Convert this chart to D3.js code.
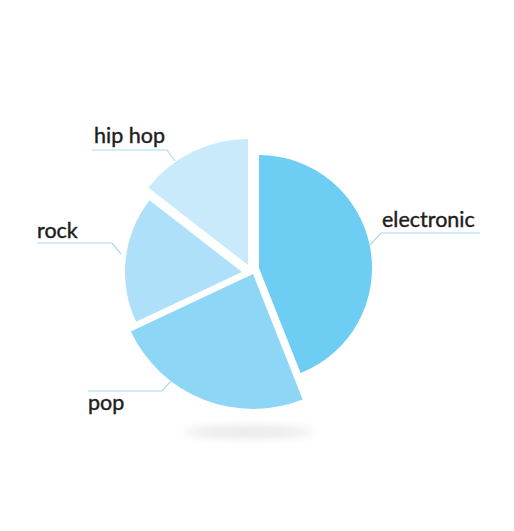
<!DOCTYPE html>
<html>
<head>
<meta charset="utf-8">
<script src="https://cdn.jsdelivr.net/npm/d3@7/dist/d3.min.js"></script>
<style>
  html, body { margin: 0; padding: 0; background: #ffffff; }
  svg { display: block; }
</style>
</head>
<body>
<svg id="chart" width="514" height="531"></svg>
<script>
// ---- data ----
const categories = ["electronic", "pop", "rock", "hip hop"];
const values = [44, 24, 17.5, 14.5];
const colors = ["#6dcdf3", "#8ed6f6", "#aee1f9", "#c9eafb"];

// ---- layout (positions / sizes, not data) ----
const center = { x: 250, y: 270 };
const sliceLayout = [
  { dx: 9,  dy: -2, r: 113 },
  { dx: 3,  dy: 4,  r: 135 },
  { dx: -8, dy: 2,  r: 117 },
  { dx: -2, dy: -5, r: 126 }
];
const labelLayout = [
  { tx: 382, ty: 227, line: [[480, 233], [381, 233], [370, 245]] },
  { tx: 88,  ty: 410, line: [[88, 391], [162, 391], [171, 381]] },
  { tx: 37,  ty: 238, line: [[37, 243], [112, 243], [121, 254]] },
  { tx: 94,  ty: 143, line: [[92, 150], [167, 150], [175, 161]] }
];

const svg = d3.select("#chart");

// shadow
const defs = svg.append("defs");
defs.append("filter").attr("id", "blur")
  .attr("x", "-50%").attr("y", "-200%").attr("width", "200%").attr("height", "500%")
  .append("feGaussianBlur").attr("stdDeviation", 5);
svg.append("ellipse")
  .attr("cx", 249).attr("cy", 432).attr("rx", 64).attr("ry", 6)
  .attr("fill", "#e8e8e8")
  .attr("filter", "url(#blur)");

const pie = d3.pie().sort(null).value(d => d)(values);

const g = svg.append("g").attr("transform", `translate(${center.x},${center.y})`);

g.selectAll("path.slice")
  .data(pie)
  .join("path")
  .attr("class", "slice")
  .attr("transform", (d, i) => `translate(${sliceLayout[i].dx},${sliceLayout[i].dy})`)
  .attr("d", (d, i) => d3.arc().innerRadius(0).outerRadius(sliceLayout[i].r)(d))
  .attr("fill", (d, i) => colors[i]);

// leader lines
const line = d3.line();
svg.selectAll("path.leader")
  .data(labelLayout)
  .join("path")
  .attr("class", "leader")
  .attr("d", d => line(d.line))
  .attr("fill", "none")
  .attr("stroke", "#a8dcf2")
  .attr("stroke-width", 1.2);

// labels
svg.selectAll("text.label")
  .data(categories)
  .join("text")
  .attr("class", "label")
  .attr("x", (d, i) => labelLayout[i].tx)
  .attr("y", (d, i) => labelLayout[i].ty)
  .attr("font-family", "Lato, 'Open Sans', sans-serif")
  .attr("font-size", 21.5)
  .attr("fill", "#1d1d1d")
  .attr("stroke", "#1d1d1d")
  .attr("stroke-width", 0.4)
  .text(d => d);
</script>
</body>
</html>
